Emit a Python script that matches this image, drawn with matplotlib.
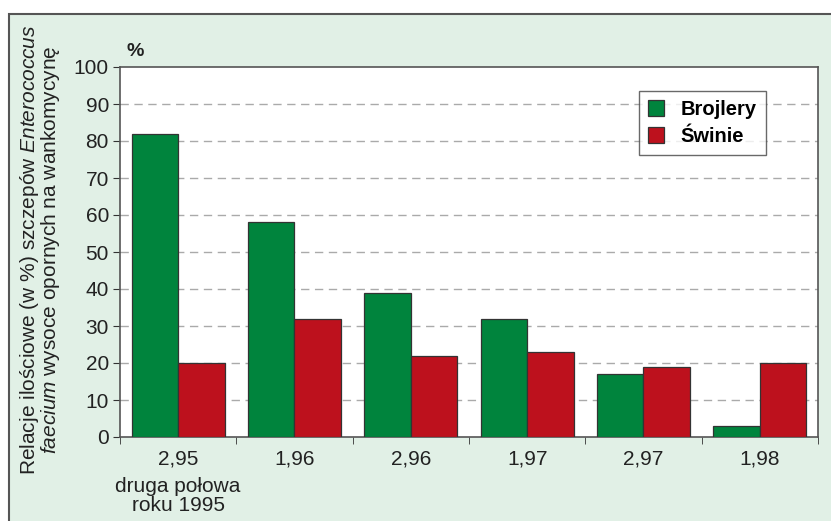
import numpy as np
import matplotlib
matplotlib.use("Agg")
import matplotlib.pyplot as plt
from matplotlib.patches import Rectangle

plt.rcParams["font.family"] = ["Liberation Sans", "DejaVu Sans"]
plt.rcParams["mathtext.fontset"] = "custom"
plt.rcParams["mathtext.rm"] = "Liberation Sans"
plt.rcParams["mathtext.it"] = "Liberation Sans:italic"

# data
periods = ["2,95", "1,96", "2,96", "1,97", "2,97", "1,98"]
brojlery = [82, 58, 39, 32, 17, 3]
swinie = [20, 32, 22, 23, 19, 20]
series_names = ["Brojlery", "Świnie"]
yticks = [0, 10, 20, 30, 40, 50, 60, 70, 80, 90, 100]

green = "#00843d"
red = "#bd111d"
panel = "#e1f0e6"
ink = "#222222"
fs = 15

fig = plt.figure(figsize=(8.31, 5.21), dpi=100)
fig.patch.set_facecolor("white")

# light green panel behind the chart
bg = fig.add_axes([0, 0, 1, 1], zorder=0)
bg.set_axis_off()
bg.set_xlim(0, 831)
bg.set_ylim(521, 0)
bg.add_patch(Rectangle((9, 14), 900, 600, facecolor=panel,
                       edgecolor="#555555", linewidth=1.5))

ax = fig.add_axes([120 / 831, 1 - 437 / 521, (818 - 120) / 831, (437 - 67) / 521],
                  zorder=1)
ax.set_facecolor("white")

x = np.arange(len(periods))
w = 0.4
ax.bar(x - w / 2, brojlery, w, color=green, edgecolor="#333333", linewidth=0.9,
       label=series_names[0], zorder=3)
ax.bar(x + w / 2, swinie, w, color=red, edgecolor="#333333", linewidth=0.9,
       label=series_names[1], zorder=3)

ax.set_xlim(-0.5, len(periods) - 0.5)
ax.set_ylim(0, 100)
ax.set_yticks(yticks)
ax.set_yticklabels([str(v) for v in yticks], fontsize=fs, color=ink)
ax.set_xticks(x)
ax.set_xticklabels(periods, fontsize=fs, color=ink)
ax.tick_params(axis="x", length=0, pad=9)
ax.set_xticks(np.arange(len(periods) + 1) - 0.5, minor=True)
ax.tick_params(axis="x", which="minor", length=5, color="#333333", direction="out")
ax.tick_params(axis="y", length=5, color="#333333", direction="out", pad=3)

for v in yticks[1:-1]:
    ax.axhline(v, color="#aaaaaa", linewidth=1, dashes=(6, 4), zorder=1)

for s in ax.spines.values():
    s.set_color("#555555")
    s.set_linewidth(1.2)

leg = ax.legend(loc="upper right", bbox_to_anchor=(0.925, 0.935), frameon=True,
                fancybox=False, prop={"weight": "bold", "size": 14.5},
                handlelength=0.8, handleheight=0.8, handletextpad=0.8,
                borderpad=0.45, labelspacing=0.4, borderaxespad=0)
leg.get_frame().set_edgecolor("#444444")
leg.get_frame().set_linewidth(1.0)

fig.text(135 / 831, 1 - 52 / 521, "%", fontsize=14, fontweight="bold",
         color=ink, ha="center", va="center")

fig.text(178 / 831, 1 - 496 / 521, "druga połowa\nroku 1995", fontsize=fs,
         color=ink, ha="center", va="center", linespacing=1.0)

yc = 1 - 250 / 521
fig.text(30 / 831, yc, r"Relacje ilościowe (w %) szczepów $\mathit{Enterococcus}$",
         rotation=90, fontsize=fs, color=ink, ha="center", va="center")
fig.text(51 / 831, yc, r"$\mathit{faecium}$ wysoce opornych na wankomycynę",
         rotation=90, fontsize=fs, color=ink, ha="center", va="center")

fig.savefig("out.png", dpi=100)
